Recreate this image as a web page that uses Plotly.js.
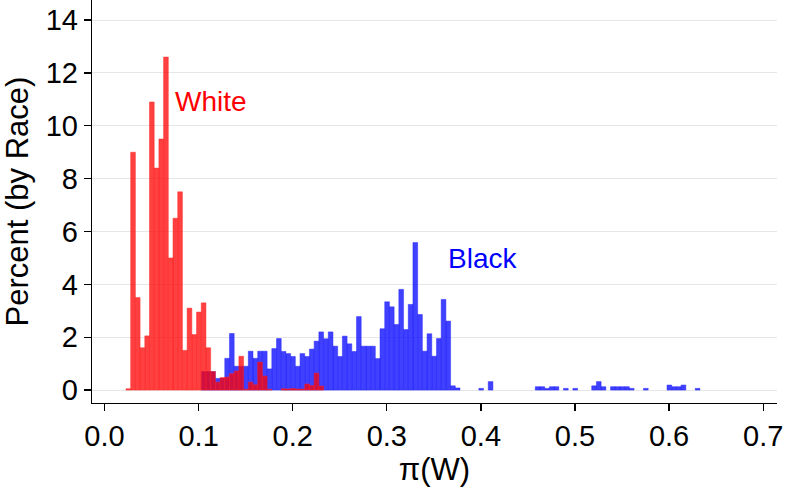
<!DOCTYPE html>
<html>
<head>
<meta charset="utf-8">
<script src="https://cdn.plot.ly/plotly-3.0.1.min.js"></script>
<style>html,body{margin:0;padding:0;background:#fff;}#chart{width:786px;height:491px;}</style>
</head>
<body>
<div id="chart"></div>
<script>
// Histogram bins (Percent within race), common bin grid
const binStart = 0.0228;
const binWidth = 0.005;

// White: bins k = 0..41
const whitePct = [0.05, 9.0, 3.5, 1.6, 2.05, 10.9, 8.4, 9.5, 12.6, 5.0,
  6.5, 7.5, 1.5, 3.1, 2.1, 2.95, 3.3, 1.6, 0.7, 0.3,
  0.47, 0.49, 0.62, 0.72, 1.28, 0.03, 0.3, 0.2, 1.06, 0.53,
  0.03, 0, 0, 0.05, 0.04, 0.06, 0.04, 0.04, 0.23, 0.17,
  0.64, 0.15];

// Black: bins starting at k = 16
const blackFirstBin = 16;
const blackPct = [0.7, 0.7, 0.7, 0.44, 0.45,
  1.2, 2.14, 0.9, 0.9, 0.9, 1.47, 1.2, 1.47, 1.47, 0.8,
  1.57, 1.95, 1.46, 1.38, 1.27, 0.9, 1.38, 1.27, 1.55, 1.85,
  2.2, 1.94, 2.2, 1.66, 1.27, 2.04, 1.75, 1.46, 2.78, 1.66,
  1.66, 1.66, 1.19, 2.32, 3.34, 3.15, 2.48, 3.81, 2.29, 3.24,
  5.58, 2.86, 1.47, 2.13, 1.28, 1.95, 3.43, 2.61, 0.16, 0.08,
  0, 0, 0, 0, 0.063, 0, 0.32, 0, 0, 0,
  0, 0, 0, 0, 0, 0, 0.127, 0.127, 0.063, 0.127,
  0.127, 0, 0.063, 0, 0.063, 0, 0, 0, 0.16, 0.32,
  0.127, 0, 0.127, 0.127, 0.127, 0.127, 0.063, 0, 0, 0.063,
  0, 0, 0, 0, 0.19, 0.127, 0.127, 0.19, 0, 0,
  0.063];

const xTicks = [0, 0.1, 0.2, 0.3, 0.4, 0.5, 0.6, 0.7];
const yTicks = [0, 2, 4, 6, 8, 10, 12, 14];

function toBars(vals, firstBin) {
  const xs = [], ys = [];
  vals.forEach((v, i) => {
    if (v > 0) {
      xs.push(binStart + (firstBin + i + 0.5) * binWidth);
      ys.push(v);
    }
  });
  return {xs, ys};
}

const b = toBars(blackPct, blackFirstBin);
const w = toBars(whitePct, 0);

const FONT = '"Liberation Sans", Arial, sans-serif';

const traces = [
  {type: 'bar', x: b.xs, y: b.ys, width: binWidth, name: 'Black',
   marker: {color: 'rgba(0,0,255,0.75)', line: {color: 'rgba(40,40,255,0.6)', width: 0.8}},
   hoverinfo: 'x+y'},
  {type: 'bar', x: w.xs, y: w.ys, width: binWidth, name: 'White',
   marker: {color: 'rgba(255,0,0,0.75)', line: {color: 'rgba(255,40,40,0.6)', width: 0.8}},
   hoverinfo: 'x+y'}
];

const layout = {
  width: 786, height: 491,
  margin: {l: 92, r: 9, t: 0, b: 88},
  paper_bgcolor: '#fff', plot_bgcolor: '#fff',
  barmode: 'overlay', bargap: 0,
  showlegend: false,
  font: {family: FONT, color: '#000', size: 28},
  xaxis: {
    range: [-0.0133, 0.7147],
    tickvals: xTicks, ticktext: xTicks.map(v => v.toFixed(1)),
    ticks: 'outside', ticklen: 7, tickwidth: 1.3, tickcolor: '#000',
    showline: true, linecolor: '#000', linewidth: 1.3,
    showgrid: false, zeroline: false,
    ticklabeloverflow: 'allow',
    tickfont: {family: FONT, size: 29, color: '#000'},
    title: {text: 'π(W)', font: {family: FONT, size: 31, color: '#000'}, standoff: 6}
  },
  yaxis: {
    range: [-0.49, 14.76],
    tickvals: yTicks, ticktext: yTicks.map(String),
    ticks: 'outside', ticklen: 7, tickwidth: 1.3, tickcolor: '#000',
    showline: true, linecolor: '#000', linewidth: 1.3,
    showgrid: true, gridcolor: '#e6e6e6', gridwidth: 1, zeroline: false,
    tickfont: {family: FONT, size: 29, color: '#000'},
    title: {text: 'Percent (by Race)', font: {family: FONT, size: 31, color: '#000'}, standoff: 12}
  },
  annotations: [
    {x: 0.0725, y: 10.93, xref: 'x', yref: 'y', text: 'White', showarrow: false,
     xanchor: 'left', yanchor: 'middle', font: {family: FONT, size: 28, color: '#ff0000'}},
    {x: 0.363, y: 4.96, xref: 'x', yref: 'y', text: 'Black', showarrow: false,
     xanchor: 'left', yanchor: 'middle', font: {family: FONT, size: 28, color: '#0000ff'}}
  ]
};

Plotly.newPlot('chart', traces, layout, {displayModeBar: false, staticPlot: true});
</script>
</body>
</html>
